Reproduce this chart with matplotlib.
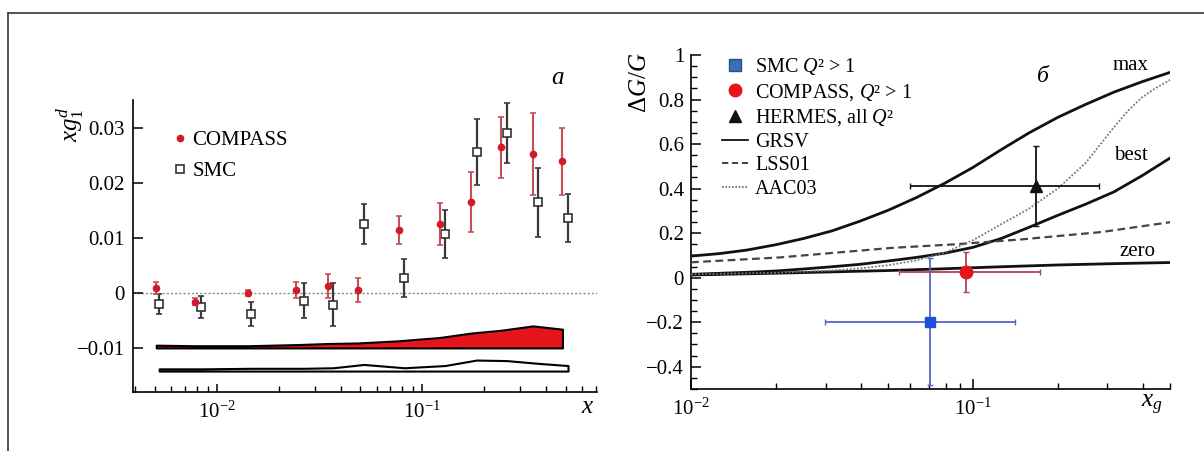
import matplotlib
matplotlib.use("Agg")
import matplotlib.pyplot as plt
from matplotlib.lines import Line2D
from matplotlib.ticker import FixedLocator, FixedFormatter, LogLocator, NullFormatter, MultipleLocator

plt.rcParams['font.family'] = ['Liberation Serif', 'DejaVu Serif']
plt.rcParams['mathtext.fontset'] = 'custom'
plt.rcParams['mathtext.rm'] = 'Liberation Serif'
plt.rcParams['mathtext.it'] = 'Liberation Serif:italic'
plt.rcParams['mathtext.bf'] = 'Liberation Serif:bold'

# ---------------- panel a data ----------------
compass_x = [0.00506, 0.0078, 0.0141, 0.0242, 0.0346, 0.0486, 0.0771, 0.122, 0.173, 0.241, 0.346, 0.482]
compass_y = [0.0009, -0.0016, 0.0000, 0.0005, 0.0013, 0.0005, 0.0114, 0.0125, 0.0165, 0.0264, 0.0252, 0.0239]
compass_err = [0.0011, 0.0006, 0.0006, 0.0015, 0.0022, 0.0022, 0.0026, 0.0038, 0.0054, 0.0055, 0.0075, 0.0061]

smc_x = [0.00523, 0.00835, 0.0147, 0.0265, 0.0369, 0.0519, 0.0818, 0.129, 0.184, 0.258, 0.367, 0.513]
smc_y = [-0.0021, -0.0025, -0.0039, -0.0014, -0.0022, 0.0125, 0.0027, 0.0107, 0.0256, 0.0290, 0.0164, 0.0136]
smc_err = [0.0018, 0.0020, 0.0022, 0.0031, 0.0039, 0.0036, 0.0035, 0.0044, 0.0060, 0.0054, 0.0063, 0.0044]

compass_band_upper = [-0.0095, -0.0096, -0.0096, -0.0094, -0.0092, -0.0091, -0.0087, -0.0081, -0.0073, -0.0068, -0.0060, -0.0066]
compass_band_lower = [-0.0100] * 12
smc_band_upper = [-0.0138, -0.0138, -0.0137, -0.0137, -0.0136, -0.0130, -0.0136, -0.0132, -0.0122, -0.0123, -0.0128, -0.0132]
smc_band_lower = [-0.0142] * 12

a_yticks = [-0.01, 0.0, 0.01, 0.02, 0.03]
a_yticklabels = ['\u22120.01', '0', '0.01', '0.02', '0.03']
a_xticks = [0.01, 0.1]
a_xticklabels = [r'$10^{-2}$', r'$10^{-1}$']

# ---------------- panel b data ----------------
grsv_max_x = [0.0100, 0.0126, 0.0158, 0.0200, 0.0251, 0.0316, 0.0398, 0.0501, 0.0631, 0.0794,
              0.100, 0.126, 0.158, 0.200, 0.251, 0.316, 0.398, 0.500]
grsv_max_y = [0.097, 0.108, 0.124, 0.148, 0.176, 0.210, 0.254, 0.303, 0.360, 0.424,
              0.495, 0.575, 0.650, 0.720, 0.778, 0.833, 0.880, 0.922]
grsv_best_x = [0.0100, 0.0158, 0.0200, 0.0251, 0.0316, 0.0398, 0.0501, 0.0631, 0.0794,
               0.100, 0.126, 0.158, 0.200, 0.251, 0.316, 0.398, 0.500]
grsv_best_y = [0.015, 0.024, 0.030, 0.039, 0.049, 0.060, 0.075, 0.091, 0.110,
               0.136, 0.176, 0.226, 0.280, 0.330, 0.385, 0.458, 0.537]
grsv_zero_x = [0.0100, 0.0200, 0.0316, 0.0501, 0.0794, 0.126, 0.200, 0.316, 0.500]
grsv_zero_y = [0.012, 0.020, 0.026, 0.032, 0.040, 0.049, 0.057, 0.063, 0.068]
lss_x = [0.0100, 0.0207, 0.0519, 0.0869, 0.149, 0.286, 0.5]
lss_y = [0.069, 0.091, 0.134, 0.150, 0.172, 0.205, 0.249]
aac_x = [0.0100, 0.0200, 0.0316, 0.0398, 0.0501, 0.0631, 0.0794, 0.100, 0.126, 0.158, 0.200,
         0.251, 0.316, 0.355, 0.398, 0.447, 0.500]
aac_y = [0.015, 0.022, 0.032, 0.042, 0.056, 0.078, 0.112, 0.168, 0.240, 0.310, 0.400,
         0.515, 0.675, 0.750, 0.810, 0.853, 0.888]

smc_pt_x, smc_pt_y = 0.0705, -0.20
smc_pt_xerr = [[0.0705 - 0.0298], [0.141 - 0.0705]]
smc_pt_yerr = [[0.28], [0.29]]
comp_pt_x, comp_pt_y = 0.0946, 0.027
comp_pt_xerr = [[0.0946 - 0.0548], [0.173 - 0.0946]]
comp_pt_yerr = [[0.090], [0.090]]
herm_pt_x, herm_pt_y = 0.168, 0.41
herm_pt_xerr = [[0.168 - 0.0597], [0.279 - 0.168]]
herm_pt_yerr = [[0.178], [0.181]]

b_yticks = [-0.4, -0.2, 0.0, 0.2, 0.4, 0.6, 0.8, 1.0]
b_yticklabels = ['\u22120.4', '\u22120.2', '0', '0.2', '0.4', '0.6', '0.8', '1']
b_xticks = [0.01, 0.1]
b_xticklabels = [r'$10^{-2}$', r'$10^{-1}$']

# ---------------- figure ----------------
fig = plt.figure(figsize=(12.04, 4.51), dpi=100)
W, H = 1204, 451

# frame lines (top and left)
fig.add_artist(Line2D([8 / W, 1.0], [1 - 13 / H, 1 - 13 / H], color='#444444', lw=1.3, transform=fig.transFigure))
fig.add_artist(Line2D([8 / W, 8 / W], [0.0, 1 - 13 / H], color='#444444', lw=1.3, transform=fig.transFigure))

# ---- panel a ----
axa = fig.add_axes([133 / W, 1 - 392 / H, 464 / W, 292 / H])
axa.set_xscale('log')
axa.set_xlim(0.0039, 0.71)
axa.set_ylim(-0.018, 0.035)
for s in ['top', 'right']:
    axa.spines[s].set_visible(False)
for s in ['left', 'bottom']:
    axa.spines[s].set_linewidth(1.2)

axa.axhline(0.0, color='#888888', lw=1.0, ls=(0, (1.5, 1.5)), zorder=1)

axa.fill_between(compass_x, compass_band_lower, compass_band_upper, facecolor='#e8141c',
                 edgecolor='black', linewidth=1.5, zorder=2)
axa.fill_between(smc_x, smc_band_lower, smc_band_upper, facecolor='white',
                 edgecolor='black', linewidth=1.5, zorder=2)

axa.errorbar(smc_x, smc_y, yerr=smc_err, fmt='s', ms=5.5, mfc='white', mec='#333333', mew=1.2,
             ecolor='#3a3a3a', elinewidth=1.6, capsize=2.2, capthick=1.2, zorder=3)
axa.errorbar(compass_x, compass_y, yerr=compass_err, fmt='o', ms=4.5, mfc='#d01c28', mec='#d01c28',
             ecolor='#c5505a', elinewidth=1.5, capsize=2.2, capthick=1.2, zorder=4)

axa.yaxis.set_major_locator(FixedLocator(a_yticks))
axa.yaxis.set_major_formatter(FixedFormatter(a_yticklabels))
axa.xaxis.set_major_locator(FixedLocator(a_xticks))
axa.xaxis.set_major_formatter(FixedFormatter(a_xticklabels))
axa.xaxis.set_minor_locator(LogLocator(base=10, subs=range(2, 10)))
axa.xaxis.set_minor_formatter(NullFormatter())
axa.tick_params(which='major', direction='in', length=6, width=1.1, labelsize=15, pad=6)
axa.tick_params(axis='y', which='major', length=7)
axa.tick_params(which='minor', direction='in', length=4, width=1.0)
axa.tick_params(axis='x', which='major', pad=7)

legend_a = [
    Line2D([], [], ls='none', marker='o', ms=4.5, mfc='#d01c28', mec='#d01c28'),
    Line2D([], [], ls='none', marker='s', ms=5.5, mfc='white', mec='#333333', mew=1.2),
]
axa.legend(legend_a, ['COMPASS', 'SMC'], loc='upper left', bbox_to_anchor=(0.07, 0.925),
           frameon=False, fontsize=15, handlelength=0.6, handletextpad=0.3, labelspacing=0.55,
           borderaxespad=0)

fig.text(558 / W, 1 - 78 / H, 'a', fontsize=18, style='italic', ha='center', va='center')
fig.text(70 / W, 1 - 124 / H, r'$xg_1^d$', fontsize=18, rotation=90, ha='center', va='center')
fig.text(588 / W, 1 - 407 / H, r'$x$', fontsize=18, ha='center', va='center')

# ---- panel b ----
axb = fig.add_axes([691 / W, 1 - 389 / H, 479 / W, 334 / H])
axb.set_xscale('log')
axb.set_xlim(0.01, 0.5)
axb.set_ylim(-0.5, 1.0)
for s in ['top', 'right']:
    axb.spines[s].set_visible(False)
for s in ['left', 'bottom']:
    axb.spines[s].set_linewidth(1.2)

axb.plot(grsv_max_x, grsv_max_y, color='#111111', lw=2.0, zorder=3, solid_joinstyle='round')
axb.plot(grsv_best_x, grsv_best_y, color='#111111', lw=2.0, zorder=3, solid_joinstyle='round')
axb.plot(grsv_zero_x, grsv_zero_y, color='#111111', lw=2.0, zorder=3, solid_joinstyle='round')
axb.plot(lss_x, lss_y, color='#444444', lw=1.6, ls=(0, (3.5, 2)), zorder=3)
axb.plot(aac_x, aac_y, color='#777777', lw=1.3, ls=(0, (1, 1)), zorder=3)

axb.errorbar([smc_pt_x], [smc_pt_y], xerr=smc_pt_xerr, yerr=smc_pt_yerr, fmt='s', ms=7,
             mfc='#1f4fd8', mec='#1f4fd8', ecolor='#5566c0', elinewidth=1.3, capsize=2, zorder=4)
axb.errorbar([comp_pt_x], [comp_pt_y], xerr=comp_pt_xerr, yerr=comp_pt_yerr, fmt='o', ms=9,
             mfc='#e8141c', mec='#e8141c', ecolor='#b0454a', elinewidth=1.3, capsize=2, zorder=4)
axb.errorbar([herm_pt_x], [herm_pt_y], xerr=herm_pt_xerr, yerr=herm_pt_yerr, fmt='^', ms=8,
             mfc='#111111', mec='#111111', ecolor='#111111', elinewidth=1.3, capsize=2.5, zorder=5)

axb.yaxis.set_major_locator(FixedLocator(b_yticks))
axb.yaxis.set_major_formatter(FixedFormatter(b_yticklabels))
axb.yaxis.set_minor_locator(MultipleLocator(0.05))
axb.xaxis.set_major_locator(FixedLocator(b_xticks))
axb.xaxis.set_major_formatter(FixedFormatter(b_xticklabels))
axb.xaxis.set_minor_locator(LogLocator(base=10, subs=range(2, 10)))
axb.xaxis.set_minor_formatter(NullFormatter())
axb.tick_params(which='major', direction='in', length=7, width=1.1, labelsize=15, pad=5)
axb.tick_params(which='minor', direction='in', length=4.5, width=1.0)
axb.tick_params(axis='x', which='major', pad=7)

legend_b = [
    Line2D([], [], ls='none', marker='s', ms=8, mfc='#3a6fb5', mec='#2a4f85'),
    Line2D([], [], ls='none', marker='o', ms=9, mfc='#e8141c', mec='#e8141c'),
    Line2D([], [], ls='none', marker='^', ms=9, mfc='#111111', mec='#111111'),
    Line2D([], [], color='#111111', lw=1.3),
    Line2D([], [], color='#333333', lw=1.3, ls=(0, (3.5, 2))),
    Line2D([], [], color='#666666', lw=1.2, ls=(0, (1, 1))),
]
axb.legend(legend_b, ['SMC $Q$\u00b2 > 1', 'COMPASS, $Q$\u00b2 > 1', 'HERMES, all $Q$\u00b2', 'GRSV', 'LSS01', 'AAC03'],
           loc='upper left', bbox_to_anchor=(0.048, 1.02), frameon=False, fontsize=14.5,
           handlelength=1.3, handletextpad=0.35, labelspacing=0.22, borderaxespad=0)

fig.text(1131 / W, 1 - 66 / H, 'max', fontsize=15, ha='center', va='center')
fig.text(1131 / W, 1 - 156 / H, 'best', fontsize=15, ha='center', va='center')
fig.text(1137 / W, 1 - 252 / H, 'zero', fontsize=15, ha='center', va='center')
fig.text(1043 / W, 1 - 76 / H, '\u0431', fontsize=17, style='italic', ha='center', va='center')
fig.text(640 / W, 1 - 83 / H, r'$\Delta G/G$', fontsize=18, rotation=90, ha='center', va='center')
fig.text(1152 / W, 1 - 405 / H, r'$x_g$', fontsize=18, ha='center', va='center')

fig.savefig('out.png', dpi=100)
